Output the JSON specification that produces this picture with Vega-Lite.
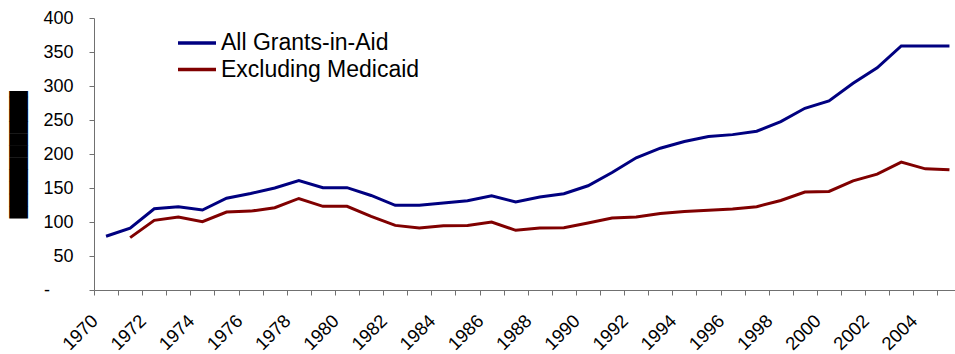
{
  "$schema": "https://vega.github.io/schema/vega-lite/v6.json",
  "width": 861,
  "height": 272,
  "autosize": {"type": "none"},
  "padding": {"left": 94, "top": 18, "right": 0, "bottom": 64},
  "background": "white",
  "config": {
    "view": {"stroke": null},
    "font": "Liberation Sans",
    "axis": {"labelFont": "Liberation Sans", "labelFontSize": 18},
    "legend": {"labelFont": "Liberation Sans", "labelFontSize": 23}
  },
  "data": {
    "values": [
      {"year": 1970, "series": "All Grants-in-Aid", "value": 79},
      {"year": 1971, "series": "All Grants-in-Aid", "value": 91},
      {"year": 1972, "series": "All Grants-in-Aid", "value": 119.5},
      {"year": 1973, "series": "All Grants-in-Aid", "value": 122.5},
      {"year": 1974, "series": "All Grants-in-Aid", "value": 117.6},
      {"year": 1975, "series": "All Grants-in-Aid", "value": 135},
      {"year": 1976, "series": "All Grants-in-Aid", "value": 142},
      {"year": 1977, "series": "All Grants-in-Aid", "value": 150},
      {"year": 1978, "series": "All Grants-in-Aid", "value": 161},
      {"year": 1979, "series": "All Grants-in-Aid", "value": 150.5},
      {"year": 1980, "series": "All Grants-in-Aid", "value": 150.5},
      {"year": 1981, "series": "All Grants-in-Aid", "value": 139},
      {"year": 1982, "series": "All Grants-in-Aid", "value": 124.5},
      {"year": 1983, "series": "All Grants-in-Aid", "value": 124.5},
      {"year": 1984, "series": "All Grants-in-Aid", "value": 128},
      {"year": 1985, "series": "All Grants-in-Aid", "value": 131.3},
      {"year": 1986, "series": "All Grants-in-Aid", "value": 138.6},
      {"year": 1987, "series": "All Grants-in-Aid", "value": 129.4},
      {"year": 1988, "series": "All Grants-in-Aid", "value": 136.7},
      {"year": 1989, "series": "All Grants-in-Aid", "value": 141.5},
      {"year": 1990, "series": "All Grants-in-Aid", "value": 153.3},
      {"year": 1991, "series": "All Grants-in-Aid", "value": 172.8},
      {"year": 1992, "series": "All Grants-in-Aid", "value": 194.5},
      {"year": 1993, "series": "All Grants-in-Aid", "value": 208.5},
      {"year": 1994, "series": "All Grants-in-Aid", "value": 218.3},
      {"year": 1995, "series": "All Grants-in-Aid", "value": 225.6},
      {"year": 1996, "series": "All Grants-in-Aid", "value": 228.5},
      {"year": 1997, "series": "All Grants-in-Aid", "value": 233.5},
      {"year": 1998, "series": "All Grants-in-Aid", "value": 247.6},
      {"year": 1999, "series": "All Grants-in-Aid", "value": 267.2},
      {"year": 2000, "series": "All Grants-in-Aid", "value": 278},
      {"year": 2001, "series": "All Grants-in-Aid", "value": 303.9},
      {"year": 2002, "series": "All Grants-in-Aid", "value": 326.8},
      {"year": 2003, "series": "All Grants-in-Aid", "value": 359},
      {"year": 2004, "series": "All Grants-in-Aid", "value": 359},
      {"year": 2005, "series": "All Grants-in-Aid", "value": 359},
      {"year": 1971, "series": "Excluding Medicaid", "value": 77},
      {"year": 1972, "series": "Excluding Medicaid", "value": 102.4},
      {"year": 1973, "series": "Excluding Medicaid", "value": 107.4},
      {"year": 1974, "series": "Excluding Medicaid", "value": 100.5},
      {"year": 1975, "series": "Excluding Medicaid", "value": 114.7},
      {"year": 1976, "series": "Excluding Medicaid", "value": 116},
      {"year": 1977, "series": "Excluding Medicaid", "value": 121},
      {"year": 1978, "series": "Excluding Medicaid", "value": 134.6},
      {"year": 1979, "series": "Excluding Medicaid", "value": 123},
      {"year": 1980, "series": "Excluding Medicaid", "value": 123},
      {"year": 1981, "series": "Excluding Medicaid", "value": 108.3},
      {"year": 1982, "series": "Excluding Medicaid", "value": 95},
      {"year": 1983, "series": "Excluding Medicaid", "value": 91.2},
      {"year": 1984, "series": "Excluding Medicaid", "value": 94.6},
      {"year": 1985, "series": "Excluding Medicaid", "value": 95},
      {"year": 1986, "series": "Excluding Medicaid", "value": 100},
      {"year": 1987, "series": "Excluding Medicaid", "value": 87.8},
      {"year": 1988, "series": "Excluding Medicaid", "value": 91.2},
      {"year": 1989, "series": "Excluding Medicaid", "value": 91.7},
      {"year": 1990, "series": "Excluding Medicaid", "value": 98.5},
      {"year": 1991, "series": "Excluding Medicaid", "value": 105.9},
      {"year": 1992, "series": "Excluding Medicaid", "value": 107.4},
      {"year": 1993, "series": "Excluding Medicaid", "value": 112.5},
      {"year": 1994, "series": "Excluding Medicaid", "value": 115.6},
      {"year": 1995, "series": "Excluding Medicaid", "value": 117.1},
      {"year": 1996, "series": "Excluding Medicaid", "value": 119},
      {"year": 1997, "series": "Excluding Medicaid", "value": 122.5},
      {"year": 1998, "series": "Excluding Medicaid", "value": 131.7},
      {"year": 1999, "series": "Excluding Medicaid", "value": 144},
      {"year": 2000, "series": "Excluding Medicaid", "value": 145},
      {"year": 2001, "series": "Excluding Medicaid", "value": 160.6},
      {"year": 2002, "series": "Excluding Medicaid", "value": 170.4},
      {"year": 2003, "series": "Excluding Medicaid", "value": 188},
      {"year": 2004, "series": "Excluding Medicaid", "value": 178.2},
      {"year": 2005, "series": "Excluding Medicaid", "value": 176.7}
    ]
  },
  "layer": [
    {
      "mark": {"type": "line", "strokeWidth": 3},
      "encoding": {
        "x": {
          "field": "year",
          "type": "quantitative",
          "scale": {"domain": [1969.5, 2005.23], "nice": false, "zero": false},
          "axis": {
            "values": [1969.5, 1970.5, 1971.5, 1972.5, 1973.5, 1974.5, 1975.5, 1976.5, 1977.5, 1978.5, 1979.5, 1980.5, 1981.5, 1982.5, 1983.5, 1984.5, 1985.5, 1986.5, 1987.5, 1988.5, 1989.5, 1990.5, 1991.5, 1992.5, 1993.5, 1994.5, 1995.5, 1996.5, 1997.5, 1998.5, 1999.5, 2000.5, 2001.5, 2002.5, 2003.5, 2004.5],
            "labelExpr": "((datum.value + 0.5) % 2 == 0) ? format(datum.value + 0.5, 'd') : ''",
            "labelAngle": -45,
            "labelAlign": "right",
            "labelBaseline": "top",
            "labelOffset": -6,
            "labelPadding": 16,
            "labelFontSize": 18.5,
            "labelColor": "black",
            "labelOverlap": false,
            "labelFlush": false,
            "labelBound": false,
            "tickSize": 5,
            "tickColor": "#707070",
            "domainColor": "#707070",
            "grid": false,
            "title": null
          }
        },
        "y": {
          "field": "value",
          "type": "quantitative",
          "scale": {"domain": [0, 400], "nice": false},
          "axis": {
            "orient": "left",
            "values": [0, 50, 100, 150, 200, 250, 300, 350, 400],
            "labelExpr": "datum.value == 0 ? '' : datum.label",
            "labelFontSize": 18,
            "labelColor": "black",
            "labelPadding": 16,
            "labelFlush": false,
            "labelOverlap": false,
            "tickSize": 5,
            "tickColor": "#707070",
            "domainColor": "#707070",
            "grid": false,
            "title": "██████████▌",
            "titleFont": "DejaVu Sans",
            "titleFontSize": 15.79,
            "titleFontWeight": "normal",
            "titleColor": "black",
            "titleAngle": -90,
            "titleAlign": "center",
            "titleBaseline": "middle",
            "titleX": -76,
            "titleY": 133
          }
        },
        "color": {
          "field": "series",
          "type": "nominal",
          "scale": {"domain": ["All Grants-in-Aid", "Excluding Medicaid"], "range": ["#000080", "#800000"]},
          "legend": {
            "title": null,
            "orient": "none",
            "legendX": 91.5,
            "legendY": 13.5,
            "padding": 0,
            "symbolType": "M-2,0H2",
            "symbolSize": 361,
            "symbolStrokeWidth": 3.5,
            "labelFontSize": 23,
            "labelColor": "black",
            "labelOffset": 12.5,
            "rowPadding": 2.5,
            "labelLimit": 400
          }
        }
      }
    },
    {
      "mark": {"type": "point", "opacity": 0},
      "encoding": {
        "x": {"field": "year", "type": "quantitative", "axis": null},
        "y": {
          "field": "value",
          "type": "quantitative",
          "scale": {"domain": [0, 400], "nice": false},
          "axis": {
            "orient": "left",
            "values": [0],
            "labelExpr": "'-'",
            "labelFontSize": 18,
            "labelColor": "black",
            "labelPadding": 44.5,
            "labelFlush": false,
            "labelOverlap": false,
            "domain": false,
            "ticks": false,
            "tickSize": 0,
            "grid": false,
            "title": null
          }
        }
      }
    }
  ],
  "resolve": {"axis": {"y": "independent", "x": "independent"}}
}
